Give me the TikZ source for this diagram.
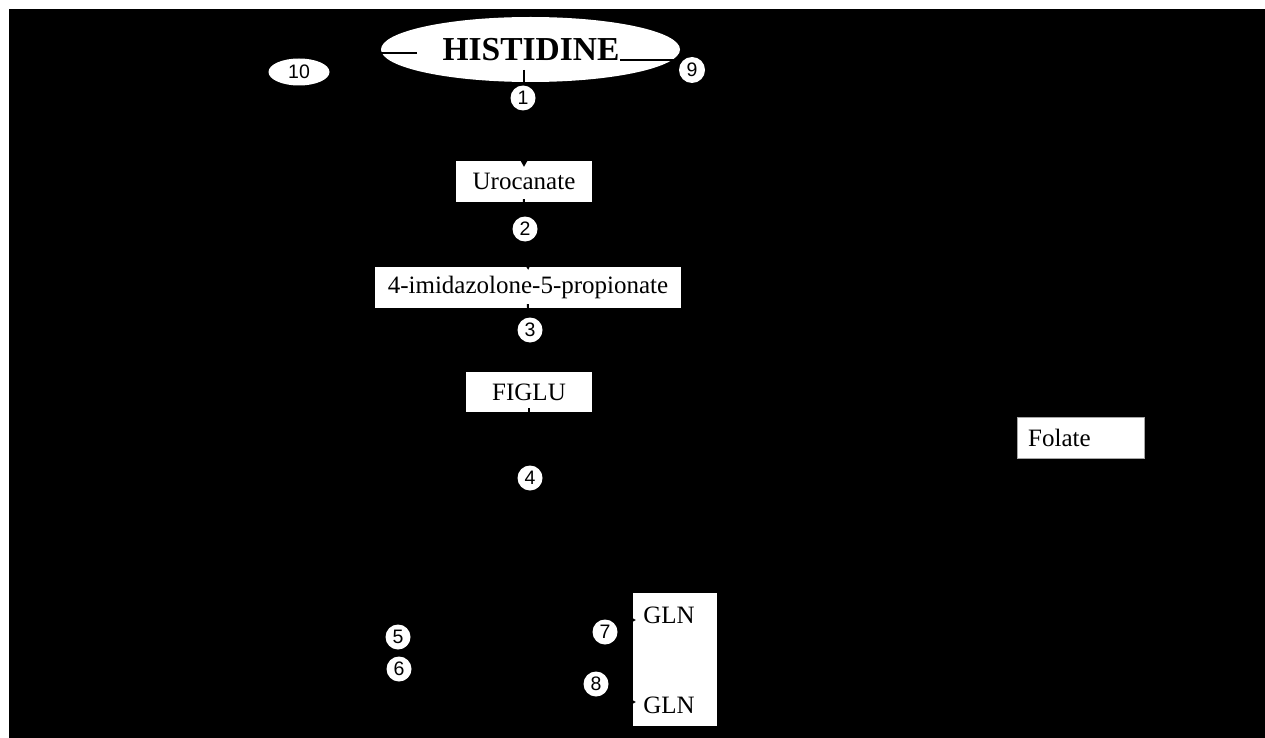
\documentclass[tikz,border=0pt]{standalone}
\usepackage{fontspec}
\setmainfont{Liberation Serif}
\newfontfamily\numfont{Liberation Sans}
\usetikzlibrary{shapes.geometric,arrows.meta}
\tikzset{
  whitebox/.style={rectangle,fill=white,draw=none,inner sep=0pt,font=\fontsize{25}{28}\selectfont},
  numcirc/.style={circle,fill=white,draw=none,inner sep=0pt,minimum size=25pt,font=\numfont\fontsize{19.5}{21}\selectfont},
  link/.style={black,line width=2pt},
  arr/.style={black,line width=2pt,-{Stealth[length=8pt,width=9pt]}},
  lbl/.style={inner sep=0pt,font=\fontsize{25}{28}\selectfont}
}
\begin{document}
\begin{tikzpicture}[x=1pt,y=-1pt]
\useasboundingbox (0,0) rectangle (1265,738);
\fill[white] (0,0) rectangle (1265,738);
\fill[black] (9,9) rectangle (1265,738);

% shapes
\node[ellipse,fill=white,inner sep=0pt,minimum width=299pt,minimum height=65pt] (his) at (530.5,49.5) {};
\node[inner sep=0pt,font=\bfseries\fontsize{33.5}{36}\selectfont] (histxt) at (531,50) {HISTIDINE};
\node[whitebox,minimum width=136pt,minimum height=41pt] (uro) at (524,181.5) {Urocanate};
\node[whitebox,minimum width=306pt,minimum height=41pt] (imid) at (528,287.5) {4-imidazolone-5-propionate};
\node[whitebox,minimum width=126pt,minimum height=40pt] (figlu) at (529,392) {FIGLU};
\node[whitebox,draw=gray!70,line width=0.8pt,minimum width=127pt,minimum height=41pt] (folbox) at (1080.5,437.5) {};
\node[lbl,anchor=west] (folate) at (1028,437.5) {Folate};
\node[whitebox,minimum width=84pt,minimum height=133pt] (gln) at (675,659.5) {};
\node[lbl] (glnA) at (669,615) {GLN};
\node[lbl] (glnB) at (669,705) {GLN};

% connector end points
\coordinate (hisL) at (417,53);
\coordinate (to10) at (330,53);
\coordinate (hisR) at (620,60);
\coordinate (to9) at (677,60);
\coordinate (hisB) at (524,70);
\coordinate (fig4) at (529,560);
\coordinate (g7) at (605,620);
\coordinate (g8) at (600,702);

% connectors
\draw[link] (hisL) -- (to10);
\draw[link] (hisR) -- (to9);
\draw[arr,shorten >=-6pt] (hisB) -- (uro.north);
\draw[arr,shorten <=-3pt,shorten >=-3pt] (uro.south) -- (imid.north);
\draw[arr,shorten <=-4pt] (imid.south) -- (figlu.north);
\draw[link,shorten <=-4pt] (figlu.south) -- (fig4);
\draw[arr,shorten >=-3pt] (g7) -- (gln.west |- g7);
\draw[arr,shorten >=-3pt] (g8) -- (gln.west |- g8);

% numbered markers
\node[ellipse,fill=white,inner sep=0pt,minimum width=61pt,minimum height=27pt,font=\numfont\fontsize{19.5}{21}\selectfont] (n10) at (299,72) {10};
\node[numcirc,minimum size=26pt] (n9) at (692,70) {9};
\node[numcirc] (n1) at (523,98) {1};
\node[numcirc] (n2) at (525,229) {2};
\node[numcirc] (n3) at (530,330) {3};
\node[numcirc] (n4) at (530,478) {4};
\node[numcirc] (n5) at (398,637) {5};
\node[numcirc] (n6) at (399,669) {6};
\node[numcirc] (n7) at (605,632) {7};
\node[numcirc] (n8) at (596,684) {8};
\end{tikzpicture}
\end{document}
